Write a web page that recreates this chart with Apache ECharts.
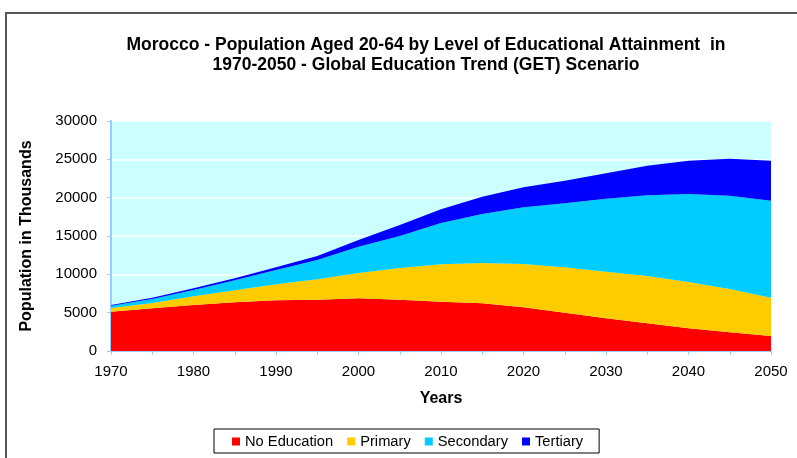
<!DOCTYPE html>
<html>
<head>
<meta charset="utf-8">
<script src="https://cdn.jsdelivr.net/npm/echarts@6/dist/echarts.min.js"></script>
<style>html,body{margin:0;padding:0;background:#fff;}#c{width:797px;height:458px;}</style>
</head>
<body>
<div id="c"></div>
<script>
var years = ['1970','1975','1980','1985','1990','1995','2000','2005','2010','2015','2020','2025','2030','2035','2040','2045','2050'];
var noEducation = [5130, 5565, 6000, 6350, 6610, 6700, 6870, 6700, 6435, 6220, 5700, 5000, 4260, 3610, 2960, 2430, 1960];
var primary = [470, 695, 1130, 1560, 2090, 2650, 3300, 4130, 4865, 5260, 5650, 5910, 6090, 6170, 6040, 5660, 5000];
var secondary = [300, 520, 830, 1310, 1870, 2520, 3430, 4170, 5400, 6390, 7390, 8350, 9520, 10520, 11480, 12170, 12650];
var tertiary = [100, 180, 210, 260, 340, 520, 880, 1430, 1800, 2260, 2610, 2960, 3300, 3870, 4350, 4830, 5220];
var yTicks = [0, 5000, 10000, 15000, 20000, 25000, 30000];

var font = '"Liberation Sans", Arial, sans-serif';
function area(name, data, color) {
  return {
    name: name, type: 'line', stack: 'total', data: data,
    symbol: 'none', smooth: false,
    lineStyle: { width: 0, color: color },
    itemStyle: { color: color },
    areaStyle: { color: color, opacity: 1 },
    emphasis: { disabled: true }
  };
}
var chart = echarts.init(document.getElementById('c'));
chart.setOption({
  animation: false,
  textStyle: { fontFamily: font },
  title: {
    text: 'Morocco - Population Aged 20-64 by Level of Educational Attainment  in\n1970-2050 - Global Education Trend (GET) Scenario',
    left: 421, top: 30, textAlign: 'center',
    textStyle: { fontSize: 17.5, fontWeight: 'bold', color: '#000', lineHeight: 20, fontFamily: font }
  },
  graphic: [{
    type: 'rect', shape: { x: 6, y: 13, width: 900, height: 600 },
    style: { fill: 'none', stroke: '#555', lineWidth: 2 }, silent: true
  }],
  legend: {
    left: 214, top: 429,
    padding: [5, 16, 4, 18],
    itemGap: 14, itemWidth: 8, itemHeight: 8, icon: 'rect',
    borderColor: '#000', borderWidth: 1,
    textStyle: { fontSize: 14.7, color: '#000', fontFamily: font },
    data: ['No Education', 'Primary', 'Secondary', 'Tertiary']
  },
  grid: { left: 111, right: 26, top: 121, bottom: 107, show: true, backgroundColor: '#ccffff', borderWidth: 0 },
  xAxis: {
    type: 'category', data: years, boundaryGap: false,
    name: 'Years', nameLocation: 'middle', nameGap: 40,
    nameTextStyle: { fontSize: 16, fontWeight: 'bold', color: '#000' },
    axisLine: { lineStyle: { color: '#99ccff', width: 1 } },
    axisTick: { interval: 0, length: 4, lineStyle: { color: '#99ccff' } },
    axisLabel: { interval: 1, fontSize: 15, color: '#000', margin: 13 },
    splitLine: { show: false }
  },
  yAxis: {
    type: 'value', min: yTicks[0], max: yTicks[yTicks.length - 1], interval: 5000,
    name: 'Population in Thousands', nameLocation: 'middle', nameGap: 76,
    nameTextStyle: { fontSize: 16, fontWeight: 'bold', color: '#000' },
    axisLine: { show: true, lineStyle: { color: '#99ccff', width: 2 } },
    axisTick: { show: true, length: 4, lineStyle: { color: '#99ccff' } },
    axisLabel: { fontSize: 15, color: '#000', margin: 14, formatter: function (v) { return String(v); } },
    splitLine: { show: true, lineStyle: { color: '#ffffff', width: 1.5 } }
  },
  series: [
    area('No Education', noEducation, '#ff0000'),
    area('Primary', primary, '#ffcc00'),
    area('Secondary', secondary, '#00ccff'),
    area('Tertiary', tertiary, '#0000ff')
  ]
});
</script>
</body>
</html>
